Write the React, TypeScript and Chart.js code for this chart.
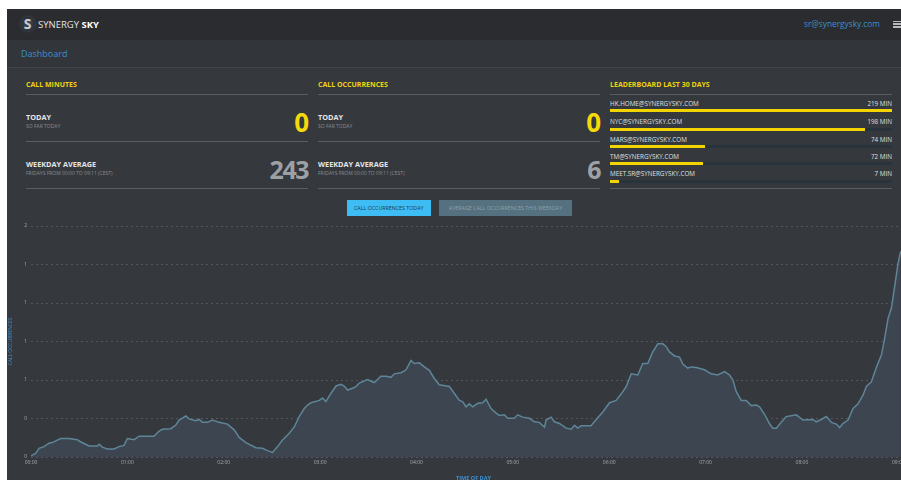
import React, { useEffect, useRef } from "react";
import { Chart, registerables } from "chart.js";

Chart.register(...registerables);

// ---- data ----
const minutes = [0, 2.9, 5, 8.1, 11.2, 13.3, 15.4, 18.5, 23.7, 28.8, 31, 34.1, 36.1, 41.3, 42.4, 44.4, 47.5, 51.7, 54.8, 57.9, 60, 64.2, 67.3, 76.6, 79.8, 81.8, 87, 90.2, 92.2, 96.4, 98.4, 102.6, 104.7, 106.7, 109.9, 113, 117.1, 122.3, 126.5, 129.6, 133.8, 137.9, 140, 144.1, 147.2, 150.4, 153.5, 156.6, 160.8, 163.9, 167, 170.1, 172.2, 174.3, 179.5, 181.5, 183.6, 186.7, 189.9, 193, 195, 197.1, 200.2, 202.3, 204.4, 209.5, 213.7, 217.9, 221, 224.1, 226.2, 230.4, 233.5, 236.6, 238.6, 241.8, 244.9, 248, 251.1, 254.2, 260.5, 263.6, 266.7, 268.7, 270.9, 272.9, 275, 278.1, 281.2, 283.3, 286.4, 289.6, 291.6, 294.7, 296.8, 300.9, 303, 306.1, 310.3, 313.4, 316.5, 319.7, 320.7, 323.8, 325.9, 329, 333.2, 336.3, 338.4, 340.4, 342.5, 348.7, 351.9, 356, 360.2, 364.3, 367.4, 370.6, 373.7, 377.8, 380.9, 384, 387.1, 390.3, 393.4, 395.5, 397.5, 400.7, 403.8, 405.8, 408.9, 411.1, 414.2, 419.3, 423.5, 427.6, 431.8, 434.9, 437, 439.1, 442.2, 445.3, 448.4, 451.6, 453.6, 456.7, 459.9, 461.9, 464, 467.1, 470.2, 476.5, 480.6, 486.8, 488.9, 492, 495.2, 498.3, 501.4, 503.5, 505.5, 508.7, 511.8, 514.9, 518, 520.1, 523.2, 526.4, 529.5, 531.5, 533.6, 535.7, 537.7, 539.8, 541.5];

const occurrences = [0.01, 0.03, 0.075, 0.09, 0.12, 0.125, 0.14, 0.16, 0.16, 0.15, 0.13, 0.11, 0.095, 0.095, 0.11, 0.085, 0.07, 0.07, 0.09, 0.1, 0.16, 0.15, 0.18, 0.18, 0.225, 0.24, 0.245, 0.277, 0.32, 0.355, 0.33, 0.315, 0.325, 0.3, 0.3, 0.32, 0.3, 0.285, 0.235, 0.17, 0.125, 0.095, 0.08, 0.075, 0.055, 0.04, 0.09, 0.147, 0.205, 0.26, 0.35, 0.42, 0.45, 0.47, 0.49, 0.51, 0.48, 0.55, 0.615, 0.63, 0.615, 0.58, 0.595, 0.61, 0.64, 0.67, 0.645, 0.7, 0.7, 0.69, 0.72, 0.73, 0.755, 0.835, 0.81, 0.815, 0.78, 0.75, 0.68, 0.625, 0.61, 0.55, 0.49, 0.48, 0.435, 0.46, 0.435, 0.465, 0.47, 0.5, 0.42, 0.38, 0.36, 0.365, 0.335, 0.335, 0.365, 0.345, 0.335, 0.305, 0.3, 0.26, 0.32, 0.345, 0.305, 0.29, 0.25, 0.24, 0.275, 0.25, 0.27, 0.27, 0.325, 0.39, 0.47, 0.49, 0.545, 0.61, 0.72, 0.71, 0.81, 0.81, 0.91, 0.98, 0.98, 0.955, 0.91, 0.875, 0.865, 0.805, 0.77, 0.78, 0.775, 0.755, 0.72, 0.71, 0.74, 0.71, 0.667, 0.565, 0.49, 0.49, 0.445, 0.45, 0.435, 0.37, 0.285, 0.25, 0.25, 0.3, 0.35, 0.365, 0.32, 0.325, 0.305, 0.325, 0.35, 0.3, 0.285, 0.255, 0.29, 0.32, 0.42, 0.46, 0.535, 0.61, 0.65, 0.78, 0.885, 1.03, 1.2, 1.29, 1.475, 1.675, 1.78];

const xTickLabels = ["00:00", "01:00", "02:00", "03:00", "04:00", "05:00", "06:00", "07:00", "08:00", "09:00"];
const yTickLabels = ["0", "0", "1", "1", "1", "1", "2"];

const leaderNames = ["HK.HOME@SYNERGYSKY.COM", "NYC@SYNERGYSKY.COM", "MARS@SYNERGYSKY.COM", "TM@SYNERGYSKY.COM", "MEET.SR@SYNERGYSKY.COM"];
const leaderMinutes = [219, 198, 74, 72, 7];

const callMinutesToday = 0;
const callMinutesAverage = 243;
const callOccToday = 0;
const callOccAverage = 6;

const FONT = "'Open Sans', 'Noto Sans', sans-serif";
const YELLOW = "#f0d20f";
const LINE = "#5a5e64";
const BLUE = "#3b8fd2";

type TProps = {
  x: number; cy: number; size: number; color: string; bold?: boolean;
  right?: boolean; text: string; ls?: number;
};

function T({ x, cy, size, color, bold, right, text, ls }: TProps) {
  const lh = Math.round(size * 1.4);
  return (
    <div
      style={{
        position: "absolute",
        top: cy - lh / 2,
        left: right ? x - 400 : x,
        width: right ? 400 : undefined,
        textAlign: right ? "right" : "left",
        fontSize: size,
        lineHeight: lh + "px",
        height: lh,
        color,
        fontWeight: bold ? 700 : 400,
        whiteSpace: "nowrap",
        fontFamily: FONT,
        letterSpacing: ls ? ls + "px" : undefined,
      }}
    >
      {text}
    </div>
  );
}

function HLine({ x, y, w }: { x: number; y: number; w: number }) {
  return <div style={{ position: "absolute", left: x, top: y, width: w, height: 1, background: LINE }} />;
}

function StatColumn({ x, title, today, avg }: { x: number; title: string; today: number; avg: number }) {
  const w = 282;
  return (
    <>
      <T x={x} cy={85} size={7} color={YELLOW} bold text={title} />
      <HLine x={x} y={94} w={w} />
      <T x={x} cy={117} size={7.3} color="#e4e5e7" bold text="TODAY" />
      <T x={x} cy={126} size={5} color="#8a8e93" text="SO FAR TODAY" />
      <T x={x + w} cy={122} size={26} color="#f5d90a" bold right text={String(today)} ls={-1} />
      <HLine x={x} y={141} w={w} />
      <T x={x} cy={164} size={7.3} color="#e4e5e7" bold text="WEEKDAY AVERAGE" />
      <T x={x} cy={173} size={5} color="#8a8e93" text="FRIDAYS FROM 00:00 TO 09:11 (CEST)" />
      <T x={x + w} cy={169} size={25} color="#9da1a6" bold right text={String(avg)} ls={-1.5} />
      <HLine x={x} y={188} w={w} />
    </>
  );
}

function Leaderboard({ x }: { x: number }) {
  const w = 282;
  const max = Math.max(...leaderMinutes);
  const textY = [103.3, 121.7, 139, 156, 173.7];
  return (
    <>
      <T x={x} cy={85} size={7} color={YELLOW} bold text="LEADERBOARD LAST 30 DAYS" />
      <HLine x={x} y={94} w={w} />
      {leaderNames.map((n, i) => (
        <React.Fragment key={n}>
          <T x={x} cy={textY[i]} size={6.3} color="#dfe0e2" text={n} />
          <T x={x + w} cy={textY[i]} size={6.3} color="#dfe0e2" right text={leaderMinutes[i] + " MIN"} />
          <div style={{ position: "absolute", left: x, top: textY[i] + 6, width: w, height: 3, background: "#28333b" }}>
            <div style={{ width: (leaderMinutes[i] / max) * 100 + "%", height: "100%", background: "#f2d400" }} />
          </div>
        </React.Fragment>
      ))}
      <HLine x={x} y={188} w={w} />
    </>
  );
}

function LineChart() {
  const ref = useRef<HTMLCanvasElement | null>(null);
  useEffect(() => {
    if (!ref.current) return;
    const chart = new Chart(ref.current, {
      type: "line",
      data: {
        datasets: [
          {
            data: minutes.map((m, i) => ({ x: m, y: occurrences[i] })),
            borderColor: "#5e8598",
            borderWidth: 1.5,
            backgroundColor: "#3d4650",
            fill: "origin",
            pointRadius: 0,
            tension: 0,
          },
        ],
      },
      options: {
        responsive: false,
        animation: false,
        layout: { padding: { top: 11, right: 11, left: 0, bottom: 0 } },
        plugins: { legend: { display: false }, tooltip: { enabled: false } },
        scales: {
          x: {
            type: "linear",
            min: 0,
            max: 551,
            grid: { display: false, drawTicks: false },
            border: { display: false },
            ticks: {
              stepSize: 60,
              includeBounds: false,
              autoSkip: false,
              maxRotation: 0,
              padding: 3,
              color: "#a7abb0",
              font: { size: 5, family: FONT },
              callback: (v: any) => xTickLabels[Math.round(Number(v) / 60)] ?? "",
            },
            title: {
              display: true,
              text: "TIME OF DAY",
              color: BLUE,
              font: { size: 5.5, weight: "bold", family: FONT },
              padding: { top: 0, bottom: 1 },
            },
            afterFit: (s: any) => {
              s.height = 26;
            },
          },
          y: {
            min: 0,
            max: 2,
            ticks: {
              count: 7,
              padding: 4,
              color: "#a7abb0",
              font: { size: 5, family: FONT },
              callback: (v: any) => yTickLabels[Math.round(Number(v) * 3)] ?? "",
            },
            grid: { color: "rgba(190,195,200,0.22)", drawTicks: false, lineWidth: 1 },
            border: { display: false, dash: [2, 3] },
            title: {
              display: true,
              text: "CALL OCCURRENCES",
              color: BLUE,
              font: { size: 5, family: FONT },
              padding: { top: 1, bottom: 0 },
            },
            afterFit: (s: any) => {
              s.width = 24;
            },
          },
        },
      } as any,
    });
    return () => chart.destroy();
  }, []);
  return (
    <canvas
      ref={ref}
      width={920}
      height={268}
      style={{ position: "absolute", left: 7, top: 215, width: 920, height: 268 }}
    />
  );
}

export default function App() {
  return (
    <div style={{ position: "fixed", left: 0, top: 0, right: 0, bottom: 0, overflow: "hidden", background: "#ffffff", fontFamily: FONT }}>
      <div style={{ position: "absolute", left: 7, top: 9, width: 1000, height: 500, background: "#35383d" }} />
      {/* header */}
      <div style={{ position: "absolute", left: 7, top: 9, width: 1000, height: 31, background: "#2a2c30" }} />
      <div
        style={{
          position: "absolute", left: 20.5, top: 17, width: 14, height: 14, borderRadius: "50%",
          background: "radial-gradient(circle, #434b57 0%, #2b3038 70%)", boxShadow: "0 0 3px #4a5562",
          color: "#c9cdd2", fontWeight: 700, fontSize: 14, lineHeight: "14px", textAlign: "center", fontFamily: FONT,
        }}
      >
        S
      </div>
      <div style={{ position: "absolute", left: 38, top: 17.5, fontSize: 9.5, lineHeight: "13px", color: "#e2e3e5", whiteSpace: "nowrap", fontFamily: FONT }}>
        SYNERGY <span style={{ fontWeight: 700, color: "#ffffff" }}>SKY</span>
      </div>
      <T x={880} cy={24} size={8.3} color={BLUE} right text="sr@synergysky.com" />
      {[20.5, 23.3, 26.1].map((y) => (
        <div key={y} style={{ position: "absolute", left: 893, top: y, width: 10, height: 1.6, background: "#b8b9bb" }} />
      ))}
      {/* sub header */}
      <div style={{ position: "absolute", left: 7, top: 40, width: 1000, height: 27, background: "#32353a", borderBottom: "1px solid #41454a" }} />
      <T x={21} cy={53} size={9} color={BLUE} text="Dashboard" />
      {/* stats */}
      <StatColumn x={26} title="CALL MINUTES" today={callMinutesToday} avg={callMinutesAverage} />
      <StatColumn x={318} title="CALL OCCURRENCES" today={callOccToday} avg={callOccAverage} />
      <Leaderboard x={610} />
      {/* buttons */}
      <div style={{ position: "absolute", left: 346.5, top: 200, width: 84.5, height: 16, background: "#3dbdf4", color: "#1e3b4d", fontSize: 5.3, lineHeight: "16px", textAlign: "center", whiteSpace: "nowrap", fontFamily: FONT }}>
        CALL OCCURRENCES TODAY
      </div>
      <div style={{ position: "absolute", left: 439.3, top: 200, width: 132.4, height: 16, background: "#55707e", color: "#8fa2ac", fontSize: 5.3, lineHeight: "16px", textAlign: "center", whiteSpace: "nowrap", fontFamily: FONT }}>
        AVERAGE CALL OCCURRENCES THIS WEEKDAY
      </div>
      <LineChart />
    </div>
  );
}
